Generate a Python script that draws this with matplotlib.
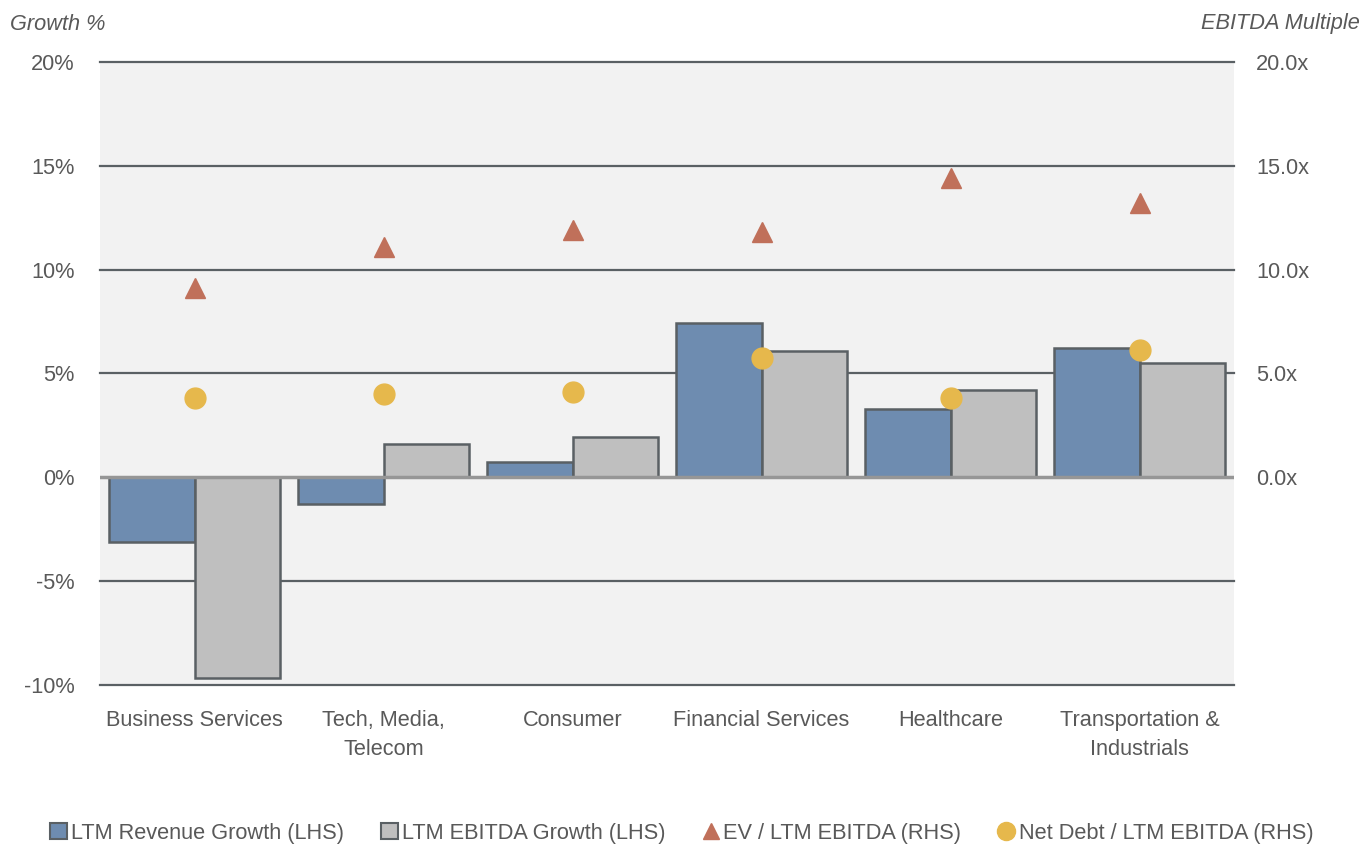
import numpy as np
import matplotlib.pyplot as plt
from matplotlib.patches import Patch
from matplotlib.lines import Line2D
from matplotlib.ticker import FuncFormatter

plt.rcParams['font.family'] = ['Liberation Sans', 'DejaVu Sans']

categories = ['Business Services', 'Tech, Media,\nTelecom', 'Consumer',
              'Financial Services', 'Healthcare', 'Transportation &\nIndustrials']
rev_growth = [-3.1, -1.3, 0.75, 7.45, 3.3, 6.25]
ebitda_growth = [-9.65, 1.6, 1.95, 6.1, 4.2, 5.5]
ev_ebitda = [9.1, 11.1, 11.9, 11.8, 14.4, 13.2]
netdebt_ebitda = [3.8, 4.0, 4.1, 5.75, 3.8, 6.15]

txt_col = '#595959'
blue = '#6E8CB0'
grey = '#BFBFBF'
edge = '#5A6064'
red = '#C0705A'
gold = '#E6B84C'
fs = 15.7

fig = plt.figure(figsize=(13.64, 8.48), dpi=100)
ax = fig.add_axes([100/1364, 1-685/848, 1134/1364, 623/848])
ax.set_facecolor('#F2F2F2')
x = np.arange(len(categories))
w = 0.455

ax.bar(x - w/2, rev_growth, w, color=blue, edgecolor=edge, linewidth=1.8, zorder=2)
ax.bar(x + w/2, ebitda_growth, w, color=grey, edgecolor=edge, linewidth=1.8, zorder=2)

for yv in [-10, -5, 5, 10, 15, 20]:
    ax.axhline(yv, color=edge, linewidth=1.6, zorder=1, clip_on=False)
ax.axhline(0, color='#969696', linewidth=2.5, zorder=3)

ax.set_xlim(-0.5, len(categories) - 0.5)
ax.set_ylim(-10, 20)
ax.set_yticks([-10, -5, 0, 5, 10, 15, 20])
ax.yaxis.set_major_formatter(FuncFormatter(lambda v, p: '%d%%' % v))
ax.set_xticks(x)
ax.set_xticklabels(categories, linespacing=1.5)
ax.tick_params(axis='y', length=0, pad=18, labelsize=fs, labelcolor=txt_col)
ax.tick_params(axis='x', length=0, pad=18, labelsize=fs, labelcolor=txt_col)
for s in ax.spines.values():
    s.set_visible(False)

ax2 = ax.twinx()
ax2.set_ylim(-10, 20)
ax2.set_yticks([0, 5, 10, 15, 20])
ax2.yaxis.set_major_formatter(FuncFormatter(lambda v, p: '%.1fx' % v))
ax2.tick_params(axis='y', length=0, pad=16, labelsize=fs, labelcolor=txt_col)
for s in ax2.spines.values():
    s.set_visible(False)
ax2.plot(x, ev_ebitda, linestyle='none', marker='^', markersize=14, color=red, zorder=4)
ax2.plot(x, netdebt_ebitda, linestyle='none', marker='o', markersize=15, color=gold, zorder=4)

fig.text(10/1364, 1-24/848, 'Growth %', fontsize=fs, style='italic', color=txt_col,
         ha='left', va='center')
fig.text(1360/1364, 1-24/848, 'EBITDA Multiple', fontsize=fs, style='italic', color=txt_col,
         ha='right', va='center')

handles = [
    Patch(facecolor=blue, edgecolor=edge, linewidth=1.5, label='LTM Revenue Growth (LHS)'),
    Patch(facecolor=grey, edgecolor=edge, linewidth=1.5, label='LTM EBITDA Growth (LHS)'),
    Line2D([], [], linestyle='none', marker='^', markersize=12, color=red, label='EV / LTM EBITDA (RHS)'),
    Line2D([], [], linestyle='none', marker='o', markersize=13, color=gold, label='Net Debt / LTM EBITDA (RHS)'),
]
leg = fig.legend(handles=handles, loc='center', bbox_to_anchor=(0.5, 1-833/848), ncol=4,
                 frameon=False, fontsize=fs, handlelength=0.75, handleheight=0.75,
                 handletextpad=0.2, columnspacing=1.7, labelcolor=txt_col)

plt.savefig('out.png', dpi=100)
